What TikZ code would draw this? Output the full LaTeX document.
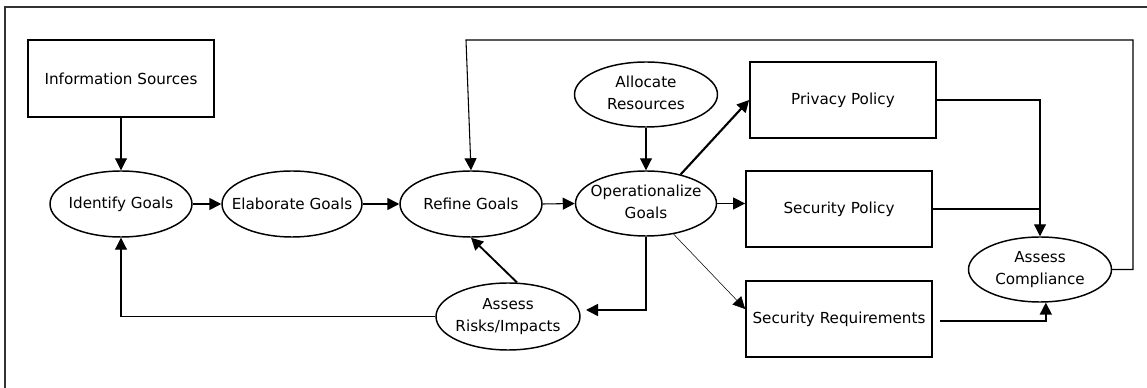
\documentclass[tikz,border=0pt]{standalone}
\usepackage{fontspec}
\setmainfont{DejaVu Sans}
\usetikzlibrary{shapes.geometric,arrows.meta,calc}
\newcommand{\zw}[1]{\makebox[0pt][c]{#1}}
\newcommand{\two}[2]{\makebox[0pt][c]{\begin{tabular}{@{}c@{}}#1\\#2\end{tabular}}}
\begin{document}
\begin{tikzpicture}[x=0.75pt,y=-0.75pt,
  font=\fontsize{11.4pt}{16.5pt}\selectfont,
  box/.style={draw, line width=1.3pt, rectangle, minimum width=139.5pt, minimum height=57pt, inner sep=0pt},
  oval/.style={draw, line width=1.1pt, ellipse, inner sep=0pt, minimum width=106.5pt, minimum height=49.5pt},
  conn/.style={line width=0.8pt, -{Triangle[length=9pt,width=9pt]}},
  thickconn/.style={line width=1.2pt, -{Triangle[length=9pt,width=9pt]}},
  thinconn/.style={line width=0.4pt, -{Triangle[length=9pt,width=9pt]}},
  frame/.style={line width=1.1pt, draw=black!80}
]
\useasboundingbox (0,0) rectangle (1147,388);
\draw[frame] (5,388) -- (5,7) -- (1147,7);

\node[box, minimum height=57.75pt] (info) at (121,78.5) {\zw{Information Sources}};
\node[oval] (identify) at (121,204) {\zw{Identify Goals}};
\node[oval, minimum width=105pt] (elaborate) at (292,204) {\zw{Elaborate Goals}};
\node[oval] (refine) at (471,204) {\zw{Refine Goals}};
\node[oval, minimum width=108pt, minimum height=50.25pt] (risks) at (508,316.5) {\two{Assess}{Risks/Impacts}};
\node[oval, minimum width=107.25pt, minimum height=48.75pt] (allocate) at (646,94.5) {\two{Allocate}{Resources}};
\node[oval, minimum width=105.75pt, minimum height=48.75pt] (oper) at (646,203.5) {\two{Operationalize}{Goals}};
\node[box] (privacy) at (843,100) {\zw{Privacy Policy}};
\node[box] (secpol) at (839,209) {\zw{Security Policy}};
\node[box] (secreq) at (839,319) {\zw{Security Requirements}};
\node[oval, minimum width=107.25pt, minimum height=48.75pt] (compliance) at (1040,269.5) {\two{Assess}{Compliance}};

\coordinate (rtip) at (586,310);
\coordinate (lc1) at (1133,40);
\coordinate (lc2) at (466,40);

\draw[conn] (info) -- (identify);
\draw[thickconn] (identify.east) -- (elaborate.west);
\draw[thickconn] (elaborate.east) -- (refine.west);
\draw[conn] (refine.east) -- (oper.west);
\draw[conn] (allocate.south) -- (oper.north);
\draw[thickconn, line width=1.6pt] (oper.40) -- (privacy.west);
\draw[conn] (oper.east) -- (oper.east -| secpol.west);
\draw[thinconn] (oper.-48) -- ($(secreq.west)+(0,-10)$);
\draw[thickconn] (oper.south) |- (rtip);
\draw[thickconn, line width=1.4pt] (risks.75) -- (refine.south);
\draw[conn] (risks.west) -| (identify.south);
\draw[conn] (privacy.east) -| (compliance.north);
\draw[line width=0.8pt] (secpol.east) -- (secpol.east -| compliance.north);
\draw[thickconn] ($(secreq.east)+(7,2)$) -| (compliance.-80);
\draw[conn] (compliance.east) -| (lc1) -- (lc2) -- (refine.north);
\end{tikzpicture}
\end{document}
